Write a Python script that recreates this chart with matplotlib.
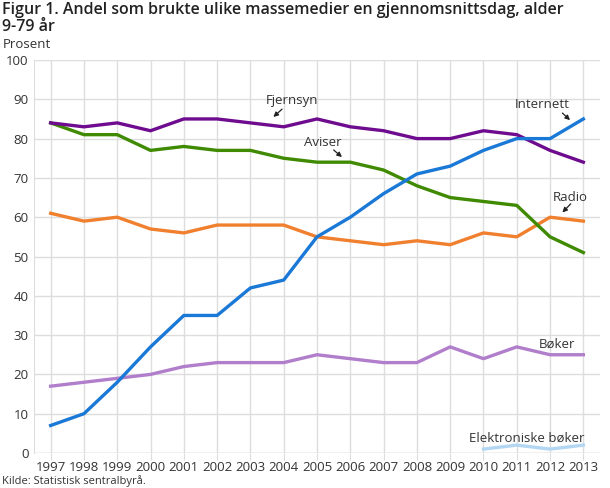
import matplotlib
matplotlib.use("Agg")
import matplotlib.pyplot as plt

plt.rcParams['font.family'] = ['Open Sans', 'DejaVu Sans']

years = list(range(1997, 2014))
fjernsyn = [84, 83, 84, 82, 85, 85, 84, 83, 85, 83, 82, 80, 80, 82, 81, 77, 74]
aviser = [84, 81, 81, 77, 78, 77, 77, 75, 74, 74, 72, 68, 65, 64, 63, 55, 51]
radio = [61, 59, 60, 57, 56, 58, 58, 58, 55, 54, 53, 54, 53, 56, 55, 60, 59]
internett = [7, 10, 18, 27, 35, 35, 42, 44, 55, 60, 66, 71, 73, 77, 80, 80, 85]
boker = [17, 18, 19, 20, 22, 23, 23, 23, 25, 24, 23, 23, 27, 24, 27, 25, 25]
ebok_years = [2010, 2011, 2012, 2013]
ebok = [1, 2, 1, 2]
y_ticks = [0, 10, 20, 30, 40, 50, 60, 70, 80, 90, 100]

fig = plt.figure(figsize=(6.1, 4.88), dpi=100)
ax = fig.add_axes([34/610, 1-453/488, 566/610, 393/488])

lw = 2.4
ax.plot(years, boker, color='#b07ecb', lw=lw, zorder=3)
ax.plot(ebok_years, ebok, color='#b3d7f3', lw=lw, zorder=3)
ax.plot(years, radio, color='#f07f2e', lw=lw, zorder=3)
ax.plot(years, aviser, color='#3f8a00', lw=lw, zorder=3)
ax.plot(years, internett, color='#1a78d6', lw=lw, zorder=4)
ax.plot(years, fjernsyn, color='#6e0b8f', lw=lw, zorder=3)

ax.set_xlim(1996.5, 2013.5)
ax.set_ylim(0, 100)
ax.set_xticks(years)
ax.set_xticklabels([str(y) for y in years])
ax.set_yticks(y_ticks)
ax.grid(True, color='#dddddd', lw=1, zorder=0)
for s in ['top', 'right', 'bottom']:
    ax.spines[s].set_visible(False)
ax.spines['left'].set_color('#dddddd')
ax.axhline(0, color='#cccccc', lw=1, zorder=1)
ax.tick_params(axis='y', length=0, labelsize=9.5, colors='#333333', pad=4)
ax.tick_params(axis='x', length=5, color='#dddddd', labelsize=9.5, colors='#333333', pad=1)

ann_kw = dict(fontsize=9.5, color='#333333', ha='center', va='center')
arrow = dict(arrowstyle='-|>', color='#222222', lw=0.9, mutation_scale=7, shrinkA=0, shrinkB=0)
ax.annotate('', xy=(2003.69, 85.5), xytext=(2003.95, 87.5), arrowprops=arrow)
ax.text(2004.26, 89.6, 'Fjernsyn', **ann_kw)
ax.annotate('', xy=(2005.75, 75.3), xytext=(2005.5, 77.1), arrowprops=arrow)
ax.text(2005.16, 78.9, 'Aviser', **ann_kw)
ax.annotate('', xy=(2012.6, 84.7), xytext=(2012.37, 86.5), arrowprops=arrow)
ax.text(2011.76, 88.8, 'Internett', **ann_kw)
ax.annotate('', xy=(2012.37, 61.2), xytext=(2012.62, 63.4), arrowprops=arrow)
ax.text(2012.6, 65.1, 'Radio', **ann_kw)
ax.text(2012.2, 27.7, 'Bøker', **ann_kw)
ax.text(2011.3, 3.8, 'Elektroniske bøker', **ann_kw)

fig.text(0.004, 1-2/488, 'Figur 1. Andel som brukte ulike massemedier en gjennomsnittsdag, alder\n9-79 år',
         fontsize=11.5, fontweight='semibold', color='#222222', va='top', ha='left', linespacing=1.1)
fig.text(0.004, 1-44/488, 'Prosent', fontsize=9.5, color='#333333', va='center', ha='left')
fig.text(0.004, 1-481/488, 'Kilde: Statistisk sentralbyrå.', fontsize=8, color='#333333', va='center', ha='left')

fig.savefig('out.png', dpi=100)
